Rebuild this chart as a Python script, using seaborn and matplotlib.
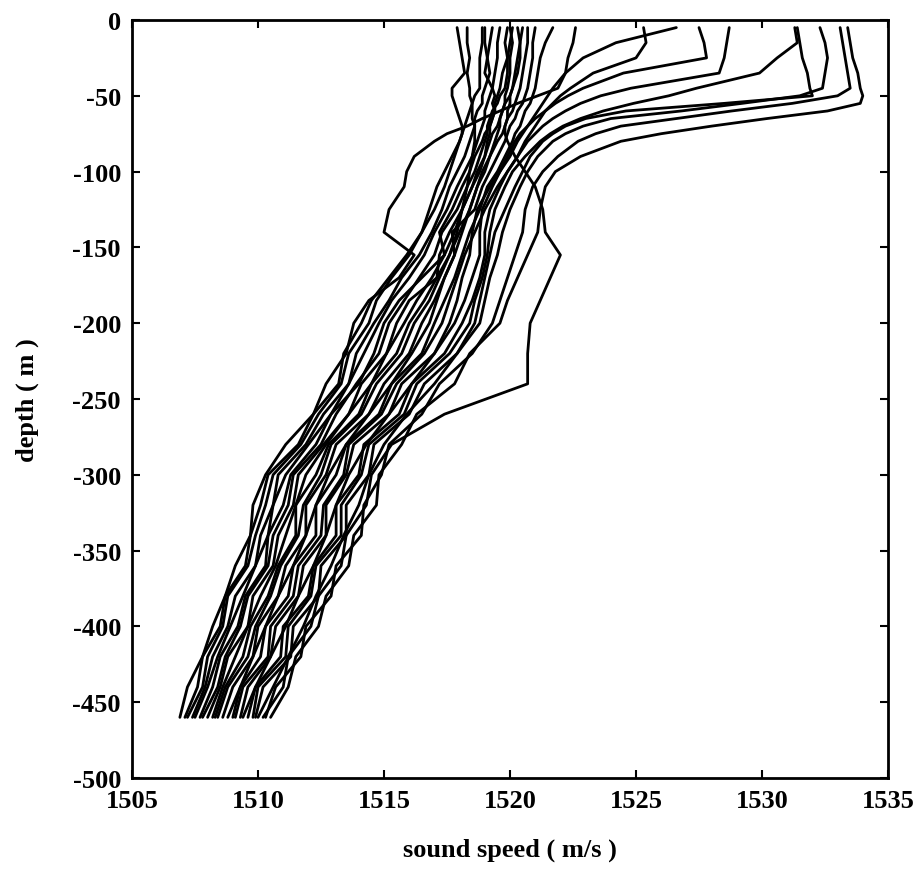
import numpy as np
import pandas as pd
import matplotlib
matplotlib.use("Agg")
import matplotlib.pyplot as plt
import seaborn as sns

# common depth grid (m)
depth = [-5, -15, -25, -35, -45, -50, -55, -60, -65, -70, -75, -80, -90, -100, -110,
         -125, -140, -155, -170, -185, -200, -220, -240, -260, -280, -300, -320, -340,
         -360, -380, -400, -420, -440, -460]

# sound-speed profiles (m/s), one value per depth above
w1 = [1533.4, 1533.5, 1533.6, 1533.8, 1533.9, 1534.0, 1533.9, 1532.6, 1530.2, 1528.0, 1526.0, 1524.4, 1522.8, 1521.8, 1521.4,
      1521.2, 1521.1, 1520.7, 1520.3, 1519.9, 1519.6, 1518.4, 1517.8, 1516.3, 1515.7, 1514.8, 1514.7, 1513.8,
      1513.6, 1512.7, 1512.4, 1511.5, 1511.2, 1510.5]
w2 = [1533.1, 1533.2, 1533.3, 1533.4, 1533.5, 1533.0, 1531.2, 1528.8, 1526.6, 1524.4, 1523.4, 1522.7, 1521.9, 1521.3, 1520.9,
      1520.6, 1520.5, 1520.2, 1519.9, 1519.6, 1519.3, 1518.5, 1517.2, 1516.5, 1515.2, 1514.9, 1514.2, 1514.1,
      1513.1, 1512.9, 1511.9, 1511.7, 1510.7, 1510.3]
w3 = [1532.3, 1532.5, 1532.6, 1532.5, 1532.4, 1531.5, 1529.2, 1526.8, 1524.0, 1522.9, 1522.2, 1521.7, 1521.1, 1520.7, 1520.4,
      1520.0, 1519.7, 1519.5, 1519.2, 1519.0, 1518.8, 1517.9, 1517.0, 1515.9, 1515.0, 1514.4, 1514.0, 1513.4,
      1512.9, 1512.3, 1511.8, 1511.2, 1510.6, 1510.0]
w4 = [1531.4, 1531.5, 1531.6, 1531.8, 1531.9, 1532.0, 1528.5, 1524.6, 1523.0, 1522.2, 1521.7, 1521.3, 1520.8, 1520.5, 1520.2,
      1519.8, 1519.4, 1519.2, 1519.0, 1518.8, 1518.6, 1517.9, 1516.6, 1516.0, 1514.6, 1514.4, 1513.5, 1513.5,
      1512.5, 1512.4, 1511.4, 1511.3, 1510.2, 1509.9]
w5 = [1531.3, 1531.4, 1530.6, 1529.9, 1527.4, 1526.3, 1524.9, 1523.7, 1522.8, 1522.1, 1521.6, 1521.2, 1520.6, 1520.1, 1519.8,
      1519.4, 1519.2, 1519.1, 1518.9, 1518.6, 1518.4, 1517.6, 1516.3, 1515.8, 1514.4, 1514.1, 1513.3, 1513.3,
      1512.3, 1512.1, 1511.2, 1511.1, 1510.0, 1509.8]
w6 = [1528.7, 1528.6, 1528.5, 1528.3, 1524.8, 1523.6, 1522.8, 1522.2, 1521.7, 1521.3, 1521.0, 1520.7, 1520.3, 1519.9, 1519.6,
      1519.2, 1519.0, 1519.0, 1518.8, 1518.5, 1518.1, 1517.4, 1516.1, 1515.6, 1514.2, 1514.0, 1513.1, 1513.1,
      1512.2, 1512.0, 1511.0, 1510.9, 1509.9, 1509.6]
w7 = [1527.5, 1527.7, 1527.8, 1524.5, 1522.9, 1522.3, 1521.8, 1521.4, 1521.0, 1520.7, 1520.4, 1520.2, 1519.9, 1519.6, 1519.3,
      1518.9, 1518.8, 1518.8, 1518.5, 1518.2, 1517.8, 1517.0, 1516.1, 1515.2, 1514.3, 1513.6, 1513.1, 1512.7,
      1512.2, 1511.6, 1511.1, 1510.5, 1509.9, 1509.4]
w8 = [1526.6, 1524.2, 1522.9, 1522.2, 1521.7, 1521.5, 1521.3, 1521.1, 1520.9, 1520.7, 1520.5, 1520.3, 1520.0, 1519.6, 1519.2,
      1518.7, 1518.5, 1518.4, 1518.1, 1517.9, 1517.6, 1517.0, 1515.7, 1515.2, 1513.8, 1513.5, 1512.7, 1512.7,
      1511.8, 1511.6, 1510.7, 1510.5, 1509.6, 1509.3]
w9 = [1525.3, 1525.4, 1525.0, 1523.3, 1522.4, 1522.0, 1521.7, 1521.4, 1521.2, 1521.0, 1520.8, 1520.6, 1520.3, 1519.9, 1519.5,
      1519.0, 1518.6, 1518.2, 1517.9, 1517.6, 1517.3, 1516.6, 1515.5, 1514.9, 1513.6, 1513.4, 1512.6, 1512.5,
      1511.6, 1511.4, 1510.5, 1510.4, 1509.4, 1509.1]
bulge = [1522.6, 1522.5, 1522.3, 1522.2, 1521.9, 1521.1, 1520.3, 1519.6, 1518.9, 1518.3, 1517.5, 1517.0, 1516.2, 1515.9, 1515.8,
         1515.2, 1515.0, 1516.2, 1515.6, 1514.4, 1513.8, 1513.5, 1512.7, 1512.2, 1511.1, 1510.3, 1509.8, 1509.7,
         1509.1, 1508.7, 1508.2, 1507.8, 1507.2, 1506.9]
outlier = [1520.3, 1520.4, 1520.3, 1520.2, 1520.1, 1520.0, 1520.0, 1519.9, 1519.9, 1519.8, 1519.8, 1519.9, 1520.2, 1520.6, 1521.0,
           1521.3, 1521.4, 1522.0, 1521.6, 1521.2, 1520.8, 1520.7, 1520.7, 1517.4, 1515.3, 1514.5, 1514.3, 1513.5,
           1513.3, 1512.4, 1512.1, 1511.2, 1511.0, 1510.2]
c1 = [1517.9, 1518.0, 1518.1, 1518.2, 1517.7, 1517.7, 1517.8, 1517.9, 1518.0, 1518.1, 1518.1, 1518.0, 1517.8, 1517.6, 1517.4,
      1517.0, 1516.5, 1515.9, 1515.2, 1514.5, 1514.1, 1513.4, 1513.2, 1512.2, 1511.6, 1510.4, 1510.1, 1509.7,
      1509.5, 1508.7, 1508.5, 1507.8, 1507.6, 1507.1]
c2 = [1518.9, 1518.9, 1518.8, 1518.8, 1518.8, 1518.6, 1518.5, 1518.4, 1518.3, 1518.2, 1518.1, 1518.0, 1517.7, 1517.4, 1517.1,
      1516.8, 1516.5, 1516.0, 1515.3, 1514.7, 1514.4, 1513.6, 1513.3, 1512.4, 1511.7, 1510.6, 1510.3, 1509.9,
      1509.6, 1508.8, 1508.6, 1508.0, 1507.8, 1507.2]
c3 = [1519.3, 1519.2, 1519.1, 1519.2, 1519.0, 1518.9, 1518.9, 1518.7, 1518.6, 1518.6, 1518.5, 1518.4, 1518.2, 1517.9, 1517.6,
      1517.3, 1516.9, 1516.4, 1515.7, 1515.2, 1514.6, 1513.9, 1513.6, 1512.6, 1511.9, 1510.8, 1510.6, 1510.1,
      1509.9, 1509.1, 1508.8, 1508.2, 1507.9, 1507.4]
c4 = [1519.6, 1519.5, 1519.5, 1519.4, 1519.3, 1519.2, 1519.1, 1519.0, 1519.0, 1518.9, 1518.8, 1518.7, 1518.5, 1518.2, 1517.9,
      1517.5, 1517.0, 1516.6, 1516.0, 1515.3, 1514.8, 1514.2, 1513.6, 1512.9, 1512.0, 1511.1, 1510.6, 1510.4,
      1509.9, 1509.4, 1508.9, 1508.4, 1508.0, 1507.5]
c5 = [1519.9, 1519.8, 1519.9, 1519.7, 1519.6, 1519.5, 1519.4, 1519.4, 1519.3, 1519.2, 1519.0, 1518.9, 1518.6, 1518.4, 1518.1,
      1517.7, 1517.2, 1517.4, 1516.5, 1515.6, 1515.0, 1514.6, 1514.0, 1512.9, 1512.3, 1511.3, 1511.0, 1510.4,
      1510.3, 1509.5, 1509.2, 1508.5, 1508.2, 1507.7]
c6 = [1520.1, 1520.0, 1519.9, 1519.9, 1519.8, 1519.6, 1519.5, 1519.3, 1519.2, 1519.1, 1519.1, 1519.0, 1518.8, 1518.6, 1518.3,
      1517.9, 1517.3, 1517.0, 1516.4, 1515.8, 1515.2, 1514.8, 1513.9, 1513.1, 1512.5, 1511.4, 1511.2, 1510.6,
      1510.4, 1509.6, 1509.3, 1508.7, 1508.4, 1507.8]
c7 = [1520.5, 1520.4, 1520.4, 1520.3, 1520.1, 1520.0, 1519.8, 1519.7, 1519.6, 1519.5, 1519.3, 1519.2, 1519.0, 1518.7, 1518.5,
      1518.1, 1517.6, 1517.2, 1517.1, 1516.0, 1515.5, 1515.1, 1514.1, 1513.6, 1512.6, 1511.6, 1511.4, 1510.8,
      1510.6, 1509.8, 1509.6, 1508.8, 1508.5, 1508.0]
c8 = [1520.7, 1520.7, 1520.6, 1520.5, 1520.4, 1520.3, 1520.2, 1520.1, 1519.9, 1519.8, 1519.7, 1519.5, 1519.2, 1518.9, 1518.7,
      1518.4, 1518.0, 1517.6, 1517.1, 1516.6, 1516.0, 1515.5, 1514.5, 1514.0, 1512.8, 1512.3, 1511.5, 1511.5,
      1510.8, 1510.4, 1509.7, 1509.4, 1508.7, 1508.3]
c9 = [1521.0, 1520.9, 1520.9, 1520.8, 1520.7, 1520.6, 1520.5, 1520.3, 1520.2, 1520.0, 1519.9, 1519.8, 1519.5, 1519.2, 1518.9,
      1518.6, 1517.7, 1517.8, 1517.4, 1517.0, 1516.5, 1516.0, 1515.0, 1514.4, 1513.1, 1512.7, 1511.9, 1511.9,
      1511.1, 1510.8, 1510.0, 1509.8, 1509.0, 1508.6]
c10 = [1521.7, 1521.4, 1521.2, 1521.1, 1521.0, 1520.9, 1520.8, 1520.6, 1520.5, 1520.4, 1520.2, 1520.1, 1519.8, 1519.5, 1519.1,
       1518.8, 1518.4, 1518.1, 1517.8, 1517.4, 1517.0, 1516.5, 1515.3, 1514.8, 1513.5, 1513.1, 1512.3, 1512.3,
       1511.4, 1511.2, 1510.3, 1510.1, 1509.3, 1509.0]
c11 = [1519.0, 1519.0, 1519.1, 1519.0, 1519.3, 1519.4, 1519.3, 1519.4, 1519.3, 1519.2, 1519.2, 1519.1, 1519.0, 1518.8, 1518.5,
       1518.1, 1517.8, 1517.4, 1516.9, 1516.3, 1515.8, 1515.1, 1514.5, 1513.6, 1512.7, 1511.9, 1511.5, 1511.1,
       1510.7, 1510.1, 1509.6, 1509.1, 1508.6, 1508.2]
c12 = [1520.0, 1520.1, 1520.0, 1520.0, 1519.9, 1519.8, 1519.8, 1519.7, 1519.6, 1519.6, 1519.5, 1519.4, 1519.2, 1519.0, 1518.7,
       1518.4, 1518.1, 1517.8, 1517.4, 1517.1, 1516.8, 1516.1, 1515.3, 1514.4, 1513.5, 1512.8, 1512.3, 1511.9,
       1511.4, 1510.8, 1510.3, 1509.8, 1509.3, 1508.8]
c13 = [1518.3, 1518.3, 1518.4, 1518.3, 1518.4, 1518.4, 1518.5, 1518.5, 1518.5, 1518.6, 1518.6, 1518.6, 1518.5, 1518.4, 1518.3,
       1518.1, 1517.9, 1517.6, 1517.2, 1516.8, 1516.2, 1515.7, 1514.7, 1514.1, 1512.9, 1512.5, 1511.8, 1511.6,
       1510.9, 1510.5, 1509.9, 1509.6, 1508.8, 1508.4]

profiles = {"w1": w1, "w2": w2, "w3": w3, "w4": w4, "w5": w5, "w6": w6, "w7": w7, "w8": w8,
            "w9": w9, "bulge": bulge, "outlier": outlier, "c1": c1, "c2": c2, "c3": c3, "c4": c4,
            "c5": c5, "c6": c6, "c7": c7, "c8": c8, "c9": c9, "c10": c10, "c11": c11, "c12": c12, "c13": c13}

x_ticks = [1505, 1510, 1515, 1520, 1525, 1530, 1535]
y_ticks = [0, -50, -100, -150, -200, -250, -300, -350, -400, -450, -500]

rows = []
for name, sp in profiles.items():
    for s, d in zip(sp, depth):
        rows.append({"profile": name, "speed": s, "depth": d})
df = pd.DataFrame(rows)

sns.set_style("ticks")
plt.rcParams["font.family"] = ["Liberation Serif", "DejaVu Serif"]
plt.rcParams["font.weight"] = "bold"
plt.rcParams["axes.labelweight"] = "bold"
plt.rcParams["axes.labelcolor"] = "black"
plt.rcParams["text.color"] = "black"
plt.rcParams["axes.unicode_minus"] = False

fig = plt.figure(figsize=(9.24, 8.87), dpi=100)
ax = fig.add_axes([132 / 924, 108 / 887, 756 / 924, 758 / 887])

sns.lineplot(data=df, x="speed", y="depth", units="profile", estimator=None, sort=False,
             color="black", linewidth=2.0, ax=ax, legend=False)

ax.set_xlim(1505, 1535)
ax.set_ylim(-500, 0)
ax.set_xticks(x_ticks)
ax.set_yticks(y_ticks)
ax.set_xticklabels([str(v) for v in x_ticks], fontweight="bold")
ax.set_yticklabels([str(v) for v in y_ticks], fontweight="bold")
ax.tick_params(direction="in", length=6, width=1.5, top=True, right=True,
               labelsize=19, pad=8, colors="black")
for sp in ax.spines.values():
    sp.set_linewidth(2)
    sp.set_color("black")
    sp.set_visible(True)

ax.set_xlabel("sound speed ( m/s )", fontsize=19, fontweight="bold", labelpad=18, color="black")
ax.set_ylabel("depth ( m )", fontsize=19, fontweight="bold", labelpad=24, color="black")

fig.savefig("out.png", dpi=100)
